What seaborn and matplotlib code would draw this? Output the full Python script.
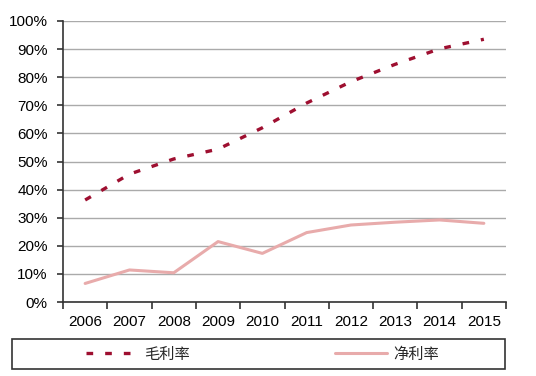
import matplotlib
matplotlib.use("Agg")
import matplotlib.pyplot as plt
import seaborn as sns
import pandas as pd
from matplotlib.patches import Rectangle
from matplotlib.lines import Line2D
from matplotlib.ticker import FixedLocator, PercentFormatter

years = ["2006", "2007", "2008", "2009", "2010", "2011", "2012", "2013", "2014", "2015"]
gross_margin = [36.3, 45.5, 50.9, 54.4, 62.0, 70.8, 78.4, 84.6, 90.1, 93.5]
net_margin = [6.6, 11.4, 10.4, 21.5, 17.3, 24.7, 27.4, 28.4, 29.2, 28.0]
series_names = ["毛利率", "净利率"]
yticks = [0, 10, 20, 30, 40, 50, 60, 70, 80, 90, 100]

sns.set_theme(style="white")
plt.rcParams["font.family"] = ["Liberation Sans", "Noto Sans CJK SC", "DejaVu Sans"]

W, H = 536, 376
fig = plt.figure(figsize=(W / 100, H / 100), dpi=100)
ax = fig.add_axes([63 / W, 1 - 302 / H, (506 - 63) / W, (302 - 21) / H])

df = pd.DataFrame({"year": years, "gm": gross_margin, "nm": net_margin})
red = "#9E0F30"
pink = "#E8ABAB"

sns.lineplot(data=df, x="year", y="nm", ax=ax, color=pink, lw=2.2, sort=False)
sns.lineplot(data=df, x="year", y="gm", ax=ax, color=red, lw=2.4, sort=False,
             dashes=False)
ax.lines[-1].set_dashes((2.0, 3.6))

ax.set_xlim(-0.5, len(years) - 0.5)
ax.set_ylim(0, 100)
ax.set_yticks(yticks)
ax.yaxis.set_major_formatter(PercentFormatter(decimals=0))
ax.set_xlabel("")
ax.set_ylabel("")
ax.grid(axis="y", color="#AAAAAA", lw=1.0)
ax.set_axisbelow(True)
for s in ["top", "right"]:
    ax.spines[s].set_visible(False)
for s in ["left", "bottom"]:
    ax.spines[s].set_color("#333333")
    ax.spines[s].set_linewidth(1.2)

ax.xaxis.set_minor_locator(FixedLocator([i - 0.5 for i in range(len(years) + 1)]))
ax.tick_params(axis="x", which="major", length=0, labelsize=11, pad=9, colors="black")
ax.tick_params(axis="x", which="minor", length=5, width=1.2, color="#333333", bottom=True)
ax.tick_params(axis="y", which="major", length=4, width=1.2, color="#333333",
               labelsize=11, pad=7, left=True, labelcolor="black")

# legend box
fig.patches.append(Rectangle((12 / W, 1 - 369 / H), 493 / W, 30 / H,
                             transform=fig.transFigure, fill=False,
                             edgecolor="#333333", lw=1.2))
cjk = {"family": ["Noto Sans CJK SC", "DejaVu Sans"], "size": 11}
h1 = Line2D([], [], color=red, lw=2.4, dashes=(2.0, 3.6))
h2 = Line2D([], [], color=pink, lw=2.2)
fig.legend([h1], [series_names[0]], loc="center left",
           bbox_to_anchor=(86 / W, 1 - 354 / H), frameon=False, borderpad=0,
           borderaxespad=0, handlelength=3.4, handletextpad=0.4, prop=cjk)
fig.legend([h2], [series_names[1]], loc="center left",
           bbox_to_anchor=(335 / W, 1 - 354 / H), frameon=False, borderpad=0,
           borderaxespad=0, handlelength=3.4, handletextpad=0.4, prop=cjk)

fig.savefig("out.png", dpi=100)
